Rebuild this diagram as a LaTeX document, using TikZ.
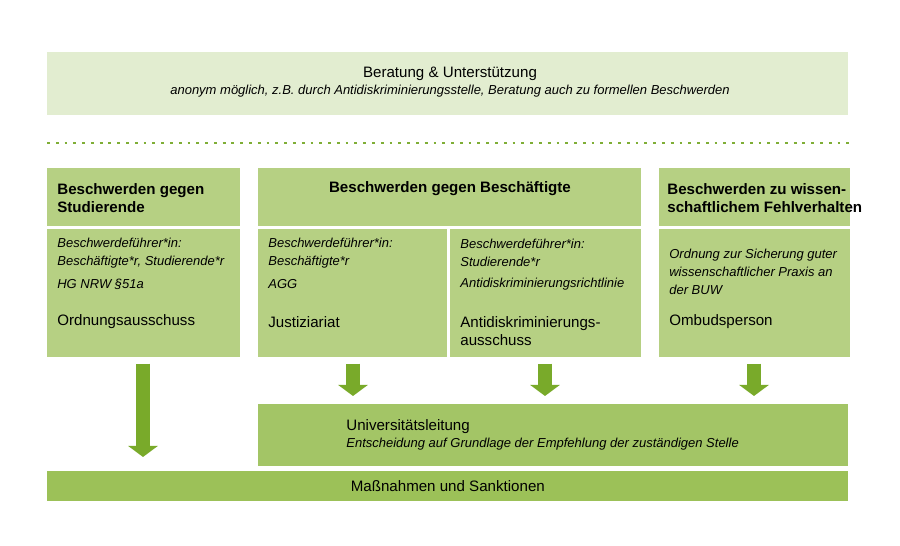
\documentclass[tikz,border=0pt]{standalone}
\usepackage{fontspec}
\setmainfont{Liberation Sans}
\usetikzlibrary{arrows.meta}
\definecolor{toplight}{HTML}{E2EDD0}
\definecolor{boxgreen}{HTML}{B6D083}
\definecolor{unigreen}{HTML}{A3C566}
\definecolor{massgreen}{HTML}{9CC158}
\definecolor{arrowgreen}{HTML}{79AA2A}
\definecolor{dotgreen}{HTML}{7FAE36}
\tikzset{
  panel/.style={fill=boxgreen, draw=none},
  headtxt/.style={font=\fontsize{8.6pt}{10.3pt}\selectfont\bfseries, align=left, anchor=west, inner sep=0pt},
  smalltxt/.style={font=\fontsize{7.4pt}{10.3pt}\selectfont\itshape, align=left, anchor=west, inner sep=0pt},
  maintxt/.style={font=\fontsize{8.6pt}{10.3pt}\selectfont, align=left, anchor=west, inner sep=0pt},
  bigarrow/.style={draw=arrowgreen, line width=0.28cm, -{Triangle[length=0.22cm,width=0.58cm]}, shorten <=0.12cm}
}
\begin{document}
\begin{tikzpicture}[x=0.02cm,y=-0.02cm]
\useasboundingbox (0,0) rectangle (900,546);
% Beratung
\fill[toplight] (47,52) rectangle (848,115);
\node[maintxt, anchor=center] (berat) at (450,74) {Beratung \& Unterstützung};
\node[smalltxt, anchor=center] (beratsub) at (450,91) {anonym möglich, z.B. durch Antidiskriminierungsstelle, Beratung auch zu formellen Beschwerden};
\draw[dotgreen, line width=1.6pt, dash pattern=on 1.6pt off 3.4pt] (47,143) -- (850,143);
% Kopfzeilen
\fill[panel] (47,168) rectangle (240,226);
\fill[panel] (258,168) rectangle (641,226);
\fill[panel] (659,168) rectangle (850,226);
\node[headtxt] (head1) at (57,198) {Beschwerden gegen\\Studierende};
\node[headtxt, anchor=center] (head2) at (450,189) {Beschwerden gegen Beschäftigte};
\node[headtxt] (head3) at (667,198) {Beschwerden zu wissen-\\schaftlichem Fehlverhalten};
% Inhalt
\node[panel, minimum width=193*0.02cm, minimum height=128*0.02cm, anchor=north west] (body1) at (47,229) {};
\node[panel, minimum width=189*0.02cm, minimum height=128*0.02cm, anchor=north west] (body2a) at (258,229) {};
\node[panel, minimum width=191*0.02cm, minimum height=128*0.02cm, anchor=north west] (body2b) at (450,229) {};
\node[panel, minimum width=191*0.02cm, minimum height=128*0.02cm, anchor=north west] (body3) at (659,229) {};
\node[smalltxt] (who1) at (57,253) {Beschwerdeführer*in:\\Beschäftigte*r, Studierende*r};
\node[smalltxt] (law1) at (57,284) {HG NRW §51a};
\node[maintxt] (org1) at (57,322) {Ordnungsausschuss};
\node[smalltxt] (who2a) at (268,253) {Beschwerdeführer*in:\\Beschäftigte*r};
\node[smalltxt] (law2a) at (268,284) {AGG};
\node[maintxt] (org2a) at (268,322) {Justiziariat};
\node[smalltxt] (who2b) at (460,253) {Beschwerdeführer*in:\\Studierende*r};
\node[smalltxt] (law2b) at (460,284) {Antidiskriminierungsrichtlinie};
\node[maintxt] (org2b) at (460,331) {Antidiskriminierungs-\\ausschuss};
\node[smalltxt] (law3) at (669,272) {Ordnung zur Sicherung guter\\wissenschaftlicher Praxis an\\der BUW};
\node[maintxt] (org3) at (669,322) {Ombudsperson};
% Leitung und Massnahmen
\node[fill=unigreen, minimum width=590*0.02cm, minimum height=62*0.02cm, anchor=north west] (uni) at (258,404) {};
\node[maintxt] (unititle) at (346,427) {Universitätsleitung};
\node[smalltxt] (unisub) at (346,444) {Entscheidung auf Grundlage der Empfehlung der zuständigen Stelle};
\node[fill=massgreen, minimum width=801*0.02cm, minimum height=30*0.02cm, anchor=north west] (mass) at (47,471) {};
\node[maintxt, anchor=center] (masstxt) at (mass.center) {Maßnahmen und Sanktionen};
% Pfeile
\coordinate (a1) at (143,457);
\coordinate (a2) at (353,396);
\coordinate (a3) at (545,396);
\coordinate (a4) at (754,396);
\draw[bigarrow] (body1.south -| a1) -- (a1);
\draw[bigarrow] (body2a.south -| a2) -- (a2);
\draw[bigarrow] (body2b.south -| a3) -- (a3);
\draw[bigarrow] (body3.south -| a4) -- (a4);
\end{tikzpicture}
\end{document}
